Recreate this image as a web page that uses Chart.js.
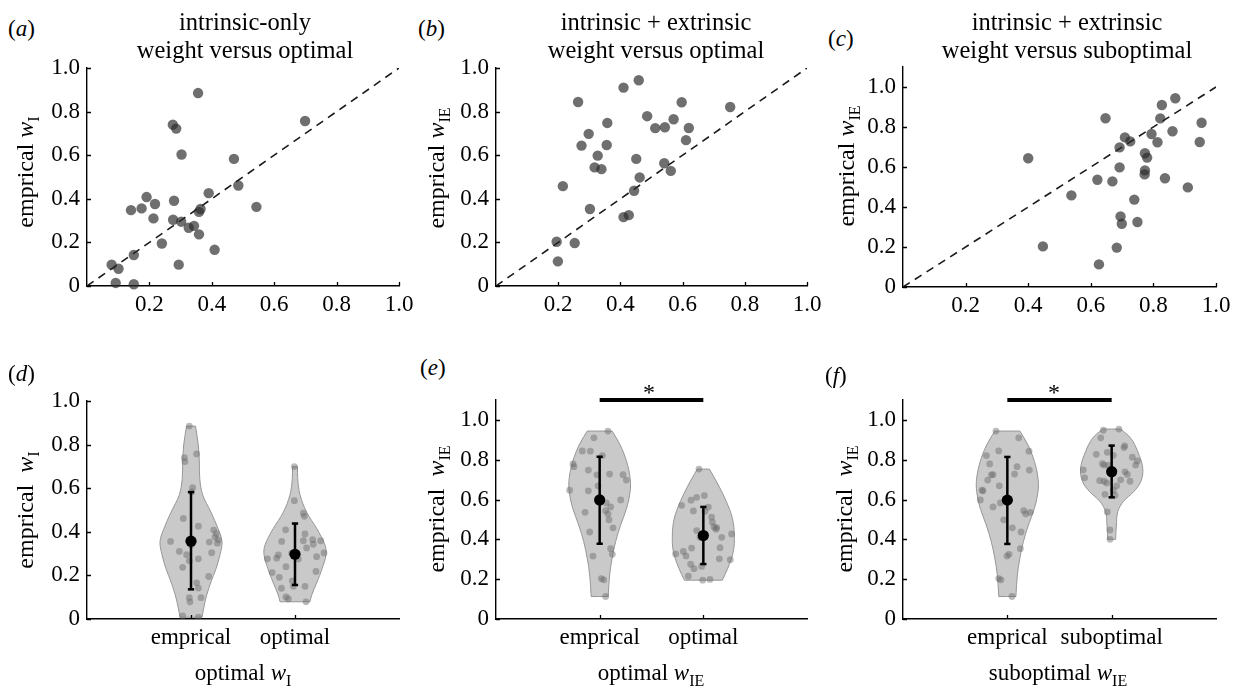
<!DOCTYPE html>
<html><head><meta charset="utf-8">
<script src="https://cdn.jsdelivr.net/npm/chart.js@4.4.0/dist/chart.umd.min.js"></script>
<style>
body{margin:0;background:#fff;width:1238px;height:693px;position:relative;overflow:hidden;font-family:'Liberation Serif','Times New Roman',serif;color:#000}
canvas{position:absolute}
.t{position:absolute;font-size:23px;line-height:28px;white-space:nowrap}
.h{font-size:24.5px}
.c{transform:translateX(-50%);text-align:center}
.r{transform:translate(-50%,-50%) rotate(-90deg);font-size:24px}
.s{font-size:16px;position:relative;top:6px}
</style></head><body>
<canvas id="ca"></canvas><canvas id="cb"></canvas><canvas id="cc"></canvas>
<canvas id="cd"></canvas><canvas id="ce"></canvas><canvas id="cf"></canvas>

<div class="t" style="left:8px;top:15px">(<i>a</i>)</div>
<div class="t" style="left:418px;top:15px">(<i>b</i>)</div>
<div class="t" style="left:828px;top:25px">(<i>c</i>)</div>
<div class="t" style="left:8px;top:360px">(<i>d</i>)</div>
<div class="t" style="left:420px;top:354px">(<i>e</i>)</div>
<div class="t" style="left:825px;top:362px">(<i>f</i>)</div>

<div class="t c h" style="left:245px;top:8px">intrinsic-only<br>weight versus optimal</div>
<div class="t c h" style="left:656px;top:8px">intrinsic + extrinsic<br>weight versus optimal</div>
<div class="t c h" style="left:1067px;top:8px">intrinsic + extrinsic<br>weight versus suboptimal</div>

<div class="t r" style="left:26px;top:172px">emprical <i>w</i><span class="s">I</span></div>
<div class="t r" style="left:437px;top:168px">emprical <i>w</i><span class="s">IE</span></div>
<div class="t r" style="left:847px;top:166px">emprical <i>w</i><span class="s">IE</span></div>
<div class="t r" style="left:26px;top:510px">emprical&nbsp; <i>w</i><span class="s">I</span></div>
<div class="t r" style="left:437px;top:509px">emprical&nbsp; <i>w</i><span class="s">IE</span></div>
<div class="t r" style="left:845px;top:509px">emprical&nbsp; <i>w</i><span class="s">IE</span></div>

<div class="t c" style="left:243px;top:659px">optimal <i>w</i><span class="s">I</span></div>
<div class="t c" style="left:651px;top:659px">optimal <i>w</i><span class="s">IE</span></div>
<div class="t c" style="left:1058px;top:659px">suboptimal <i>w</i><span class="s">IE</span></div>

<div class="t c" style="left:649px;top:378px;font-size:24px">*</div>
<div class="t c" style="left:1054px;top:378px;font-size:24px">*</div>

<script>
// ---------- data ----------
// panel (a): intrinsic-only, optimal (x) vs empirical (y)
const aOptimal   = [0.356,0.699,0.275,0.286,0.303,0.471,0.485,0.390,0.191,0.279,0.218,0.543,0.175,0.364,0.141,0.359,0.213,0.276,0.302,0.343,0.326,0.359,0.240,0.409,0.150,0.294,0.079,0.101,0.092,0.150];
const aEmpirical = [0.885,0.757,0.740,0.722,0.603,0.583,0.461,0.426,0.408,0.391,0.376,0.363,0.356,0.353,0.348,0.340,0.310,0.304,0.295,0.276,0.267,0.237,0.195,0.166,0.142,0.098,0.098,0.079,0.014,0.008];
// panels (b)/(c): intrinsic + extrinsic
const bOptimal    = [0.459,0.410,0.264,0.597,0.753,0.486,0.571,0.358,0.543,0.620,0.512,0.298,0.611,0.356,0.275,0.327,0.451,0.541,0.317,0.339,0.562,0.462,0.215,0.444,0.302,0.427,0.410,0.195,0.253,0.199];
const ieEmpirical = [0.944,0.910,0.844,0.843,0.821,0.779,0.765,0.748,0.728,0.725,0.724,0.698,0.669,0.647,0.644,0.598,0.583,0.563,0.544,0.536,0.528,0.498,0.458,0.437,0.353,0.325,0.316,0.203,0.197,0.113];
const cSuboptimal = [0.870,0.827,0.647,0.822,0.954,0.861,0.794,0.709,0.726,0.948,0.813,0.692,0.773,0.780,0.400,0.692,0.773,0.772,0.837,0.621,0.669,0.910,0.538,0.739,0.695,0.749,0.699,0.447,0.683,0.626];

// horizontal jitter of the dots inside each violin (category units)
const dEmpJitter = [-0.016,0.054,-0.064,-0.058,0.016,0.006,-0.074,0.071,0.218,0.244,0.231,0.263,-0.196,0.176,0.253,0,-0.112,0.199,-0.042,0.071,-0.016,-0.080,0.170,0.054,0.071,-0.016,0.096,-0.010,-0.080,0.071];
const dOptJitter = [-0.128,-0.006,0.032,0.208,0.279,0.090,0.080,0.096,-0.151,-0.176,0.202,-0.006,-0.026,0.170,-0.130,0.247,-0.220,-0.266,-0.032,0.176,0.112,0.080,-0.087,-0.090,-0.016,-0.160,0.106,-0.087,-0.064,0.096];
const eEmpJitter = [0.080,-0.055,-0.167,-0.090,0.026,-0.257,-0.248,-0.109,0.096,0.225,-0.026,0.257,-0.016,-0.290,-0.109,0.203,0.064,0.106,0.058,-0.141,0.080,0.090,0.129,-0.096,0.106,0.122,-0.064,0.016,0.039,0.058];
const eOptJitter = [0.129,0.177,-0.016,-0.119,-0.042,0.087,-0.209,0.161,-0.096,0.010,0.080,0.260,-0.064,-0.113,-0.122,-0.267,0.122,0.016,-0.167,-0.193,0.048,0.103,-0.145,-0.064,0.154,0.273,-0.032,-0.006,-0.090,0.064];
const fEmpJitter = [-0.109,0.109,-0.083,0.208,-0.201,-0.169,0.093,0.211,0.070,-0.137,-0.153,-0.188,-0.077,-0.243,-0.233,-0.259,-0.067,-0.137,0.157,0.220,0.176,-0.035,0.048,0.131,0.125,0.016,-0.003,-0.083,-0.061,0.045];
const fSubJitter = [0.125,-0.147,0.016,0.016,0.070,0.118,0.246,-0.259,0.150,-0.080,0.198,-0.073,-0.073,-0.089,-0.016,0.176,0.230,-0.032,-0.042,0.032,0.048,-0.105,-0.042,0.128,-0.115,-0.272,0.086,-0.016,-0.048,-0.064];

// violin half-width profiles (value level, half-width in category units)
const dEmpLevels = [0.885,0.80,0.72,0.645,0.57,0.49,0.415,0.355,0.295,0.23,0.17,0.11,0.05,0.008];
const dEmpWidths = [0.043,0.070,0.080,0.084,0.112,0.192,0.260,0.298,0.279,0.240,0.192,0.151,0.122,0.106];
const dOptLevels = [0.699,0.645,0.57,0.49,0.415,0.34,0.295,0.23,0.17,0.11,0.079];
const dOptWidths = [0.024,0.026,0.048,0.112,0.209,0.288,0.298,0.260,0.212,0.161,0.144];
const ieEmpLevels = [0.944,0.874,0.791,0.707,0.64,0.556,0.472,0.389,0.305,0.221,0.113];
const ieEmpWidths = [0.120,0.198,0.260,0.294,0.294,0.260,0.202,0.154,0.120,0.096,0.082];
const eOptLevels = [0.753,0.673,0.59,0.506,0.422,0.338,0.255,0.195];
const eOptWidths = [0.058,0.145,0.222,0.280,0.299,0.289,0.236,0.183];
const fSubLevels = [0.954,0.908,0.841,0.757,0.69,0.64,0.59,0.539,0.472,0.40];
const fSubWidths = [0.087,0.183,0.250,0.298,0.279,0.212,0.112,0.058,0.045,0.038];

// mean and error bar ends
const dMean = [0.357,0.297], dLow = [0.136,0.156], dHigh = [0.582,0.438];
const eMean = [0.598,0.419], eLow = [0.378,0.276], eHigh = [0.815,0.563];
const fMean = [0.597,0.740], fLow = [0.377,0.611], fHigh = [0.814,0.871];

// categories / tick values
const dCategories = ['emprical','optimal'];
const eCategories = ['emprical','optimal'];
const fCategories = ['emprical','suboptimal'];
const scatterXTicks = [0.2,0.4,0.6,0.8,1.0];
const yTicks = [0,0.2,0.4,0.6,0.8,1.0];
const sigPair = [1,2];

// ---------- drawing ----------
const FONT = "'Liberation Serif','Times New Roman',serif";
const PAD = {l:70, t:14, r:22, b:44};

function placeCanvas(id, r){
  const c = document.getElementById(id);
  c.width = r.r - r.l + PAD.l + PAD.r;
  c.height = r.b - r.t + PAD.t + PAD.b;
  c.style.left = (r.l - PAD.l) + 'px';
  c.style.top = (r.t - PAD.t) + 'px';
  c.style.width = c.width + 'px';
  c.style.height = c.height + 'px';
  return c;
}

const innerTicks = {
  id:'innerTicks',
  afterDraw(chart){
    const ctx = chart.ctx, a = chart.chartArea, xs = chart.scales.x, ys = chart.scales.y;
    ctx.save(); ctx.strokeStyle = '#000'; ctx.lineWidth = 1.3; ctx.beginPath();
    xs.ticks.forEach(t => { const p = Math.round(xs.getPixelForValue(t.value)) + 0.5; ctx.moveTo(p, a.bottom); ctx.lineTo(p, a.bottom - 4); });
    ys.ticks.forEach(t => { const p = Math.round(ys.getPixelForValue(t.value)) + 0.5; ctx.moveTo(a.left, p); ctx.lineTo(a.left + 4, p); });
    ctx.stroke(); ctx.restore();
  }
};

function baseOptions(o){
  return {
    responsive:false, animation:false, devicePixelRatio:1, events:[],
    layout:{padding:{top:PAD.t, right:PAD.r, left:0, bottom:0}},
    plugins:{legend:{display:false}, tooltip:{enabled:false}},
    scales:{
      x:{ type:'linear', min:o.xMin, max:o.xMax,
          grid:{drawOnChartArea:false, drawTicks:false},
          border:{display:true, color:'#000', width:1.4},
          ticks:{padding:5, color:'#000', font:{family:FONT, size:23}, callback:o.xLabel, maxRotation:0, autoSkip:false},
          afterBuildTicks: s => { s.ticks = o.xTickValues.map(v => ({value:v})); },
          afterFit: s => { s.height = PAD.b; s.paddingLeft = 0; s.paddingRight = 0; }
      },
      y:{ type:'linear', min:0, max:o.yMax,
          grid:{drawOnChartArea:false, drawTicks:false},
          border:{display:true, color:'#000', width:1.4},
          ticks:{padding:7, color:'#000', font:{family:FONT, size:23}, autoSkip:false,
                 callback: v => (Math.abs(v) < 1e-9 ? '0' : v.toFixed(1))},
          afterBuildTicks: s => { s.ticks = yTicks.map(v => ({value:v})); },
          afterFit: s => { s.width = PAD.l; s.paddingTop = 0; s.paddingBottom = 0; }
      }
    }
  };
}

function scatterPanel(id, rect, xs, ys, yMax){
  const c = placeCanvas(id, rect);
  new Chart(c, {
    type:'scatter',
    data:{datasets:[
      {data:[{x:0,y:0},{x:1,y:1}], showLine:true, borderColor:'#1a1a1a', borderWidth:1.6, borderDash:[8,6], pointRadius:0, order:2},
      {data:xs.map((x,i)=>({x:x, y:ys[i]})), pointRadius:5.2, backgroundColor:'rgba(43,43,43,0.68)', borderWidth:0, order:1, clip:false}
    ]},
    options: baseOptions({xMin:0, xMax:1, yMax:yMax, xTickValues:scatterXTicks,
      xLabel: v => v.toFixed(1)}),
    plugins:[innerTicks]
  });
}

function violinOutline(c, lv, w){
  const n = lv.length, pts = [];
  pts.push({x:c - w[n-1], y:lv[n-1]});
  for (let i = n-1; i >= 0; i--) pts.push({x:c - w[i], y:lv[i]});
  pts.push({x:c - w[0], y:lv[0]});
  pts.push({x:c + w[0], y:lv[0]});
  pts.push({x:c + w[0], y:lv[0]});
  for (let i = 1; i < n; i++) pts.push({x:c + w[i], y:lv[i]});
  pts.push({x:c + w[n-1], y:lv[n-1]});
  pts.push({x:c - w[n-1], y:lv[n-1]});
  return pts;
}

function violinPanel(id, rect, groups, cats, means, lows, highs, yMax, sig){
  const cv = placeCanvas(id, rect);
  const ds = [];
  const cw = 0.03;
  groups.forEach((g, k) => {
    const c = k + 1;
    ds.push({data:violinOutline(c, g.levels, g.widths), showLine:true, fill:'shape', tension:0.35,
             backgroundColor:'rgb(201,201,201)', borderColor:'rgb(150,150,150)', borderWidth:1, pointRadius:0, order:6});
    ds.push({data:g.vals.map((v,i)=>({x:c + g.jit[i], y:v})), pointRadius:3.4, backgroundColor:'rgba(105,105,105,0.45)', borderWidth:0, order:5});
    ds.push({data:[{x:c, y:lows[k]},{x:c, y:highs[k]}], showLine:true, borderColor:'#000', borderWidth:2.5, pointRadius:0, order:4});
    ds.push({data:[{x:c-cw, y:highs[k]},{x:c+cw, y:highs[k]}], showLine:true, borderColor:'#000', borderWidth:2.5, pointRadius:0, order:4});
    ds.push({data:[{x:c-cw, y:lows[k]},{x:c+cw, y:lows[k]}], showLine:true, borderColor:'#000', borderWidth:2.5, pointRadius:0, order:4});
    ds.push({data:[{x:c, y:means[k]}], pointRadius:5.6, backgroundColor:'#000', borderWidth:0, order:3});
  });
  if (sig) ds.push({data:[{x:sig[0], y:yMax},{x:sig[1], y:yMax}], showLine:true, borderColor:'#000', borderWidth:4, pointRadius:0, clip:false, order:1});
  new Chart(cv, {
    type:'scatter',
    data:{datasets:ds},
    options: baseOptions({xMin:0, xMax:3, yMax:yMax, xTickValues:[1,2],
      xLabel: v => cats[Math.round(v) - 1] || ''}),
    plugins:[innerTicks]
  });
}

function drawAll(){
  scatterPanel('ca', {l:87, r:399, t:68, b:286}, aOptimal, aEmpirical, 1.0);
  scatterPanel('cb', {l:496, r:807, t:68, b:286}, bOptimal, ieEmpirical, 1.0);
  scatterPanel('cc', {l:903, r:1216, t:67, b:287}, cSuboptimal, ieEmpirical, 1.1);

  violinPanel('cd', {l:87, r:399, t:401, b:619}, [
    {vals:aEmpirical, jit:dEmpJitter, levels:dEmpLevels, widths:dEmpWidths},
    {vals:aOptimal, jit:dOptJitter, levels:dOptLevels, widths:dOptWidths}
  ], dCategories, dMean, dLow, dHigh, 1.0, null);
  violinPanel('ce', {l:496, r:807, t:400, b:619}, [
    {vals:ieEmpirical, jit:eEmpJitter, levels:ieEmpLevels, widths:ieEmpWidths},
    {vals:bOptimal, jit:eOptJitter, levels:eOptLevels, widths:eOptWidths}
  ], eCategories, eMean, eLow, eHigh, 1.1, sigPair);
  violinPanel('cf', {l:903, r:1216, t:400, b:619}, [
    {vals:ieEmpirical, jit:fEmpJitter, levels:ieEmpLevels, widths:ieEmpWidths},
    {vals:cSuboptimal, jit:fSubJitter, levels:fSubLevels, widths:fSubWidths}
  ], fCategories, fMean, fLow, fHigh, 1.1, sigPair);
}

if (document.fonts && document.fonts.load) {
  Promise.all([document.fonts.load('23px "Liberation Serif"'), document.fonts.load('italic 23px "Liberation Serif"')])
    .then(drawAll, drawAll);
} else { drawAll(); }
</script>
</body></html>
